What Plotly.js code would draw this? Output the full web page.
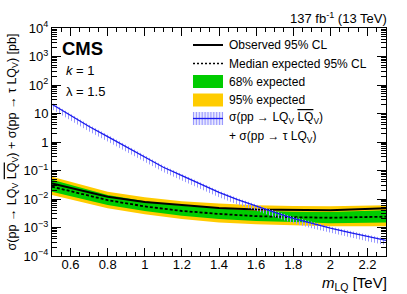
<!DOCTYPE html>
<html>
<head>
<meta charset="utf-8">
<script src="https://cdn.plot.ly/plotly-3.0.1.min.js"></script>
<style>html,body{margin:0;padding:0;background:#fff;}#chart{width:407px;height:294px;}</style>
</head>
<body>
<div id="chart"></div>
<script>
// Limit mass points (TeV)
const massLimit = [0.5, 0.8, 1.0, 1.2, 1.4, 1.6, 1.8, 2.0, 2.3];
const observed  = [0.035, 0.012, 0.0079, 0.0062, 0.0048, 0.0043, 0.0041, 0.0040, 0.0047];
const expected  = [0.027, 0.0091, 0.0055, 0.0038, 0.0030, 0.0025, 0.0023, 0.0022, 0.0024];
const exp68Up   = [0.047, 0.0138, 0.0083, 0.0058, 0.0047, 0.0039, 0.0036, 0.0035, 0.0040];
const exp68Down = [0.018, 0.0062, 0.0038, 0.0026, 0.0020, 0.0017, 0.00155, 0.0014, 0.0015];
const exp95Up   = [0.060, 0.018, 0.0115, 0.0083, 0.0069, 0.0060, 0.0057, 0.0056, 0.0060];
const exp95Down = [0.0138, 0.0047, 0.0029, 0.0020, 0.0015, 0.0013, 0.0012, 0.0011, 0.0011];

// Theory cross section
const massTheory = [0.5,0.6,0.7,0.8,0.9,1.0,1.1,1.2,1.3,1.4,1.5,1.6,1.7,1.8,1.9,2.0,2.1,2.2,2.3];
const theory     = [21, 8.5, 3.5, 1.55, 0.68, 0.28, 0.13, 0.066, 0.034, 0.017, 0.0095, 0.0056, 0.0034, 0.0021, 0.0014, 0.00095, 0.00068, 0.00049, 0.00035];
const theoryUp   = [24, 9.8, 4.0, 1.78, 0.78, 0.32, 0.15, 0.076, 0.039, 0.0196, 0.0109, 0.0064, 0.0039, 0.0024, 0.0016, 0.00109, 0.00078, 0.00056, 0.0004];
const theoryDown = [14, 5.7, 2.35, 1.04, 0.46, 0.19, 0.088, 0.045, 0.023, 0.0115, 0.0064, 0.0038, 0.0023, 0.0014, 0.00094, 0.00064, 0.00046, 0.00033, 0.00024];

const xTickVals = [0.6, 0.8, 1, 1.2, 1.4, 1.6, 1.8, 2, 2.2];
const xTickText = ['0.6', '0.8', '1', '1.2', '1.4', '1.6', '1.8', '2', '2.2'];
const yTickVals = [1e-4, 1e-3, 1e-2, 1e-1, 1, 10, 100, 1000, 10000];
const yTickText = ['10<sup>−4</sup>','10<sup>−3</sup>','10<sup>−2</sup>','10<sup>−1</sup>','1','10','10<sup>2</sup>','10<sup>3</sup>','10<sup>4</sup>'];

const YELLOW = '#ffcc00', GREEN = '#00cc00', BLUE = '#1a1aee', HATCH = '#9a9aff';
const FONT = 'Liberation Sans, Arial, sans-serif';

const traces = [
  {x: massLimit, y: exp95Down, mode:'lines', line:{width:0, color:YELLOW}, showlegend:false, hoverinfo:'skip'},
  {x: massLimit, y: exp95Up, mode:'lines', fill:'tonexty', fillcolor:YELLOW, line:{width:0, color:YELLOW}, name:'95% expected', showlegend:false},
  {x: massLimit, y: exp68Down, mode:'lines', line:{width:0, color:GREEN}, showlegend:false, hoverinfo:'skip'},
  {x: massLimit, y: exp68Up, mode:'lines', fill:'tonexty', fillcolor:GREEN, line:{width:0, color:GREEN}, name:'68% expected', showlegend:false},
  {x: massLimit, y: expected, mode:'lines', line:{color:'#000', width:1.8, dash:'3px,2px'}, name:'Median expected 95% CL', showlegend:false},
  {x: massLimit, y: observed, mode:'lines', line:{color:'#000', width:2}, name:'Observed 95% CL', showlegend:false},
  {x: massTheory, y: theoryDown, mode:'lines', line:{width:0, color:HATCH}, showlegend:false, hoverinfo:'skip'},
  {x: massTheory, y: theoryUp, mode:'lines', fill:'tonexty', fillcolor:'rgba(0,0,0,0)',
   fillpattern:{shape:'|', fgcolor:HATCH, bgcolor:'rgba(0,0,0,0)', size:3, solidity:0.35},
   line:{width:0, color:HATCH}, showlegend:false, hoverinfo:'skip'},
  {x: massTheory, y: theory, mode:'lines', line:{color:BLUE, width:1.3}, name:'theory', showlegend:false}
];

// paper coordinate helpers (plot area 52..386 x, 28..256 y)
const px = v => (v - 52) / 334;
const py = v => (256 - v) / 228;

const shapes = [
  {type:'line', xref:'paper', yref:'paper', x0:px(193), x1:px(223), y0:py(45), y1:py(45), line:{color:'#000', width:2}},
  {type:'line', xref:'paper', yref:'paper', x0:px(193), x1:px(223), y0:py(63.5), y1:py(63.5), line:{color:'#000', width:1.3, dash:'2px,2px'}},
  {type:'rect', xref:'paper', yref:'paper', x0:px(193), x1:px(223), y0:py(88), y1:py(75), fillcolor:GREEN, line:{width:0}},
  {type:'rect', xref:'paper', yref:'paper', x0:px(193), x1:px(223), y0:py(106.5), y1:py(93.5), fillcolor:YELLOW, line:{width:0}},
  {type:'rect', xref:'paper', yref:'paper', x0:px(193), x1:px(223), y0:py(125), y1:py(112), fillcolor:'rgba(140,140,255,0.2)', line:{width:0}}
];
for (let i = 0; i < 11; i++) {
  const xx = 193.5 + i * 2.9;
  shapes.push({type:'line', xref:'paper', yref:'paper', x0:px(xx), x1:px(xx), y0:py(125), y1:py(112), line:{color:HATCH, width:1.1}});
}
shapes.push({type:'line', xref:'paper', yref:'paper', x0:px(193), x1:px(223), y0:py(118.5), y1:py(118.5), line:{color:BLUE, width:1.3}});

const legFont = {family:FONT, size:12, color:'#000'};
const ann = (x, y, text, font, xanchor) => ({xref:'paper', yref:'paper', x:x, y:y, text:text, showarrow:false, xanchor:xanchor||'left', yanchor:'middle', font:font});
const annotations = [
  ann(px(227), py(45), 'Observed 95% CL', legFont),
  ann(px(227), py(63.5), 'Median expected 95% CL', legFont),
  ann(px(227), py(81.5), '68% expected', legFont),
  ann(px(227), py(100), '95% expected', legFont),
  ann(px(227), py(118), 'σ(pp → LQ<sub>V</sub> <span style="text-decoration:overline">LQ</span><sub>V</sub>)', legFont),
  ann(px(227), py(137), '+ σ(pp → τ LQ<sub>V</sub>)', legFont),
  ann(px(60), py(48), '<b>CMS</b>', {family:FONT, size:18.5, color:'#000'}),
  ann(px(64), py(70), '<i>k</i> = 1', {family:FONT, size:13, color:'#000'}),
  ann(px(64), py(91), 'λ = 1.5', {family:FONT, size:13, color:'#000'}),
  ann(px(389), py(18), '137 fb<sup>-1</sup> (13 TeV)', {family:FONT, size:13, color:'#000'}, 'right'),
  ann(px(389), py(283), '<i>m</i><sub>LQ</sub> [TeV]', {family:FONT, size:15, color:'#000'}, 'right')
];

const layout = {
  width:407, height:294,
  margin:{l:52, r:21, t:28, b:38, pad:0},
  paper_bgcolor:'#fff', plot_bgcolor:'#fff',
  showlegend:false,
  font:{family:FONT, size:13, color:'#000'},
  xaxis:{
    range:[0.5, 2.3], showgrid:false, zeroline:false,
    showline:true, linecolor:'#000', linewidth:1, mirror:'allticks',
    ticks:'inside', ticklen:8, tickcolor:'#000', tickwidth:1,
    tickvals:xTickVals, ticktext:xTickText,
    ticklabelstandoff:-4,
    tickfont:{family:FONT, size:13},
    minor:{ticks:'inside', ticklen:4, tickcolor:'#000', dtick:0.05, tick0:0.5},
    fixedrange:true
  },
  yaxis:{
    type:'log', range:[-4, 4], showgrid:false, zeroline:false,
    showline:true, linecolor:'#000', linewidth:1, mirror:'allticks',
    ticks:'inside', ticklen:9, tickcolor:'#000', tickwidth:1,
    tickvals:yTickVals, ticktext:yTickText,
    tickfont:{family:FONT, size:13},
    minor:{ticks:'inside', ticklen:5, tickcolor:'#000', dtick:'D1'},
    title:{text:'σ(pp → LQ<sub>V</sub> <span style="text-decoration:overline">LQ</span><sub>V</sub>) + σ(pp → τ LQ<sub>V</sub>) [pb]', font:{family:FONT, size:12.5}, standoff:4},
    automargin:false,
    fixedrange:true
  },
  shapes:shapes,
  annotations:annotations
};

Plotly.newPlot('chart', traces, layout, {displayModeBar:false, staticPlot:true});
</script>
</body>
</html>
